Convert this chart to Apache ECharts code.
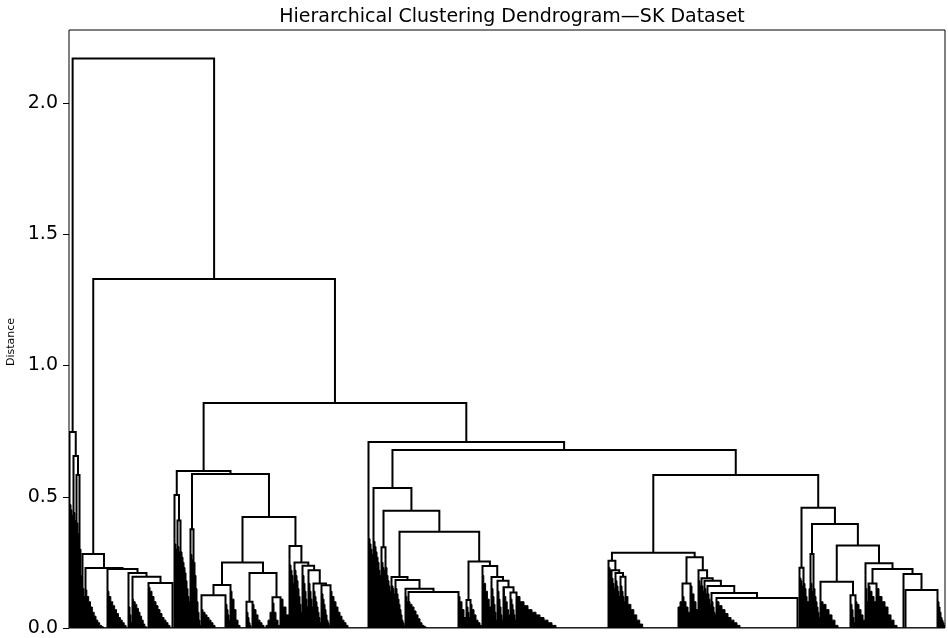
<!DOCTYPE html>
<html>
<head>
<meta charset="utf-8">
<title>Hierarchical Clustering Dendrogram—SK Dataset</title>
<script src="https://cdn.jsdelivr.net/npm/echarts@6.0.0/dist/echarts.min.js"></script>
<style>
    html, body { margin: 0; padding: 0; background: #fff; }
    #chart { width: 948px; height: 638px; }
</style>
</head>
<body>
<div id="chart"></div>
<script>
// merges: name, distance, left child, right child (children are merges or leaf groups)
const merges = [
    ['root', 2.17, 'P1', 'Q'],
    ['P1', 0.747, 'b1', 'P1b'],
    ['P1b', 0.655, 'b2', 'P1c'],
    ['P1c', 0.583, 'b3', 'b4'],
    ['Q', 1.33, 'N28', 'N86'],
    ['N28', 0.282, 'b5', 'N23'],
    ['N23', 0.229, 'b6', 'N225'],
    ['N225', 0.225, 'b7', 'N21'],
    ['N21', 0.21, 'b8', 'N20'],
    ['N20', 0.195, 'b9', 'N17'],
    ['N17', 0.171, 'b10', 'b11'],
    ['N86', 0.857, 'A', 'F'],
    ['A', 0.598, 'AL', 'B'],
    ['AL', 0.507, 'b12', 'AL2'],
    ['AL2', 0.41, 'b13', 'b14'],
    ['B', 0.587, 'BL', 'C'],
    ['BL', 0.376, 'b15', 'b16'],
    ['C', 0.423, 'D', 'E'],
    ['D', 0.25, 'D1', 'D2'],
    ['D1', 0.164, 'D1L', 'b19'],
    ['D1L', 0.125, 'b17', 'b18'],
    ['D2', 0.21, 'D2L', 'D2R'],
    ['D2L', 0.10, 'b20', 'b21'],
    ['D2R', 0.117, 'b22', 'b23'],
    ['E', 0.312, 'b24', 'E1'],
    ['E1', 0.25, 'b25', 'E1R'],
    ['E1R', 0.237, 'b26', 'E1RR'],
    ['E1RR', 0.22, 'b27', 'E2'],
    ['E2', 0.17, 'b28', 'E3'],
    ['E3', 0.163, 'b29', 'b30'],
    ['F', 0.709, 'b31', 'G'],
    ['G', 0.678, 'H', 'I'],
    ['H', 0.533, 'b32', 'J'],
    ['J', 0.447, 'JL', 'K'],
    ['JL', 0.308, 'b33', 'b34'],
    ['K', 0.367, 'KL', 'L'],
    ['KL', 0.194, 'b35', 'KL2'],
    ['KL2', 0.183, 'b36', 'W1'],
    ['W1', 0.15, 'b37', 'W2'],
    ['W2', 0.137, 'b38', 'b39'],
    ['L', 0.253, 'LL', 'M'],
    ['LL', 0.107, 'b40', 'b41'],
    ['M', 0.236, 'b42', 'MR'],
    ['MR', 0.194, 'b43', 'MRR'],
    ['MRR', 0.18, 'b44', 'MR3'],
    ['MR3', 0.155, 'b45', 'MR4'],
    ['MR4', 0.135, 'b46', 'b47'],
    ['I', 0.583, 'IL', 'IR'],
    ['IL', 0.287, 'ILL', 'ILR'],
    ['ILL', 0.256, 'b48', 'ILL2'],
    ['ILL2', 0.22, 'b49', 'ILL3'],
    ['ILL3', 0.21, 'b50', 'ILL4'],
    ['ILL4', 0.195, 'b51', 'b52'],
    ['ILR', 0.27, 'ILRL', 'ILRR'],
    ['ILRL', 0.17, 'b53', 'b54'],
    ['ILRR', 0.22, 'b55', 'R2'],
    ['R2', 0.19, 'b56', 'R3'],
    ['R3', 0.18, 'b57', 'R4'],
    ['R4', 0.16, 'b58', 'R5'],
    ['R5', 0.133, 'b59', 'R6'],
    ['R6', 0.114, 'b60', 'b61'],
    ['IR', 0.458, 'IRL', 'IRR'],
    ['IRL', 0.23, 'b62', 'b63'],
    ['IRR', 0.396, 'IRRL', 'IRRR'],
    ['IRRL', 0.282, 'b64', 'b65'],
    ['IRRR', 0.314, 'X1', 'X2'],
    ['X1', 0.176, 'b66', 'X1R'],
    ['X1R', 0.125, 'b67', 'b68'],
    ['X2', 0.247, 'b69', 'X3'],
    ['X3', 0.225, 'X3L', 'X4'],
    ['X3L', 0.17, 'b70', 'b71'],
    ['X4', 0.206, 'b72', 'X5'],
    ['X5', 0.145, 'b73', 'b74']
]

// leaf groups: name, number of leaves, outline of their small merges from left to right
const leafGroups = [
    ['b1', 4, [0.49, 0.47, 0.45, 0.43]],
    ['b2', 3, [0.47, 0.44, 0.41]],
    ['b3', 3, [0.44, 0.4, 0.36]],
    ['b4', 3, [0.4, 0.3, 0.2]],
    ['b5', 3, [0.2, 0.15, 0.12]],
    ['b6', 22, [0.145, 0.12, 0.1, 0.08, 0.06, 0.045, 0.03, 0.02, 0.01, 0.005, 0, 0]],
    ['b7', 21, [0.14, 0.12, 0.1, 0.085, 0.07, 0.055, 0.04, 0.03, 0.02, 0.01, 0]],
    ['b8', 4, [0.11, 0.08, 0.05, 0.02]],
    ['b9', 16, [0.11, 0.1, 0.09, 0.075, 0.06, 0.045, 0.03, 0.015, 0.005, 0]],
    ['b10', 24, [0.155, 0.14, 0.12, 0.1, 0.085, 0.07, 0.055, 0.04, 0.03, 0.02, 0.01, 0]],
    ['b11', 2, [0, 0]],
    ['b12', 3, [0.34, 0.32, 0.3]],
    ['b13', 3, [0.33, 0.31, 0.29]],
    ['b14', 10, [0.32, 0.29, 0.27, 0.25, 0.23, 0.21, 0.18, 0.15, 0.12, 0.1]],
    ['b15', 3, [0.3, 0.28, 0.26]],
    ['b16', 8, [0.29, 0.25, 0.2, 0.15, 0.1, 0.06, 0.03, 0.01]],
    ['b17', 24, [0.07, 0.06, 0.05, 0.04, 0.03, 0.02, 0.01, 0, 0, 0, 0, 0]],
    ['b18', 5, [0.11, 0.09, 0.07, 0.05, 0.03]],
    ['b19', 16, [0.14, 0.11, 0.07, 0.03, 0.01, 0, 0, 0]],
    ['b20', 6, [0.08, 0.06, 0.04, 0.02, 0.01, 0]],
    ['b21', 14, [0.09, 0.07, 0.05, 0.03, 0.02, 0.01, 0]],
    ['b22', 14, [0.01, 0.03, 0.06, 0.095, 0.06, 0.03, 0.01]],
    ['b23', 9, [0.11, 0.08, 0.05]],
    ['b24', 5, [0.26, 0.24, 0.22, 0.2, 0.17]],
    ['b25', 8, [0.24, 0.22, 0.2, 0.18, 0.15, 0.12, 0.09, 0.06]],
    ['b26', 6, [0.23, 0.2, 0.17, 0.14, 0.11, 0.08]],
    ['b27', 5, [0.2, 0.17, 0.14, 0.11, 0.08]],
    ['b28', 8, [0.16, 0.14, 0.12, 0.1, 0.08, 0.06, 0.04, 0.02]],
    ['b29', 9, [0.15, 0.13, 0.11, 0.09, 0.07, 0.05, 0.03, 0.02, 0.01]],
    ['b30', 38, [0.14, 0.12, 0.1, 0.08, 0.06, 0.045, 0.03, 0.02, 0.01, 0, 0, 0, 0, 0, 0, 0, 0, 0, 0]],
    ['b31', 5, [0.35, 0.34, 0.32, 0.3, 0.28]],
    ['b32', 8, [0.35, 0.33, 0.31, 0.29, 0.27, 0.25, 0.22, 0.2]],
    ['b33', 4, [0.27, 0.25, 0.23, 0.22]],
    ['b34', 6, [0.26, 0.23, 0.2, 0.18, 0.16, 0.14]],
    ['b35', 4, [0.17, 0.16, 0.15, 0.13]],
    ['b36', 10, [0.165, 0.15, 0.13, 0.11, 0.09, 0.07, 0.05, 0.03, 0.02, 0.01]],
    ['b37', 3, [0.14, 0.12, 0.1]],
    ['b38', 50, [0.1, 0.09, 0.08, 0.065, 0.05, 0.035, 0.02, 0.01, 0.005, 0, 0, 0, 0, 0, 0, 0, 0, 0, 0, 0, 0, 0, 0, 0, 0]],
    ['b39', 8, [0.12, 0.1, 0.07, 0.04]],
    ['b40', 4, [0.1, 0.08, 0.06, 0.04]],
    ['b41', 12, [0.09, 0.07, 0.05, 0.03, 0.02, 0.01]],
    ['b42', 9, [0.2, 0.17, 0.14, 0.11, 0.08]],
    ['b43', 6, [0.18, 0.15, 0.12, 0.09, 0.06, 0.03]],
    ['b44', 6, [0.17, 0.14, 0.11, 0.08, 0.05, 0.03]],
    ['b45', 7, [0.15, 0.12, 0.1, 0.07, 0.05]],
    ['b46', 6, [0.13, 0.11, 0.09, 0.07, 0.05, 0.03]],
    ['b47', 92, [0.12, 0.1, 0.085, 0.07, 0.06, 0.05, 0.04, 0.03, 0.02, 0.01, 0, 0, 0, 0, 0, 0, 0, 0, 0, 0, 0, 0, 0]],
    ['b48', 3, [0.25, 0.23, 0.22]],
    ['b49', 4, [0.21, 0.19, 0.17, 0.15]],
    ['b50', 5, [0.2, 0.18, 0.16, 0.14, 0.12]],
    ['b51', 5, [0.18, 0.16, 0.14, 0.12, 0.1]],
    ['b52', 53, [0.12, 0.09, 0.07, 0.05, 0.03, 0.015, 0, 0, 0, 0, 0, 0, 0, 0, 0, 0, 0, 0]],
    ['b53', 12, [0.08, 0.1, 0.12, 0.1, 0.08, 0.06]],
    ['b54', 8, [0.16, 0.13, 0.1, 0.07]],
    ['b55', 3, [0.2, 0.18, 0.16]],
    ['b56', 3, [0.18, 0.16, 0.14]],
    ['b57', 3, [0.17, 0.15, 0.13]],
    ['b58', 4, [0.15, 0.13, 0.11, 0.09]],
    ['b59', 5, [0.12, 0.1, 0.08, 0.06, 0.05]],
    ['b60', 81, [0.1, 0.085, 0.07, 0.055, 0.04, 0.03, 0.02, 0.01, 0, 0, 0, 0, 0, 0, 0, 0, 0, 0, 0, 0, 0, 0, 0, 0, 0, 0, 0]],
    ['b61', 2, [0, 0]],
    ['b62', 4, [0.2, 0.19, 0.18, 0.16]],
    ['b63', 5, [0.19, 0.17, 0.15, 0.12, 0.1]],
    ['b64', 5, [0.1, 0.15, 0.19, 0.17, 0.14]],
    ['b65', 7, [0.18, 0.15, 0.12, 0.1, 0.08, 0.06, 0.04]],
    ['b66', 30, [0.1, 0.09, 0.07, 0.05, 0.03, 0.01, 0, 0, 0, 0]],
    ['b67', 5, [0.11, 0.09, 0.07, 0.04, 0.02]],
    ['b68', 10, [0.1, 0.09, 0.07, 0.05, 0.03]],
    ['b69', 3, [0.2, 0.15, 0.1]],
    ['b70', 8, [0.16, 0.14, 0.12, 0.1]],
    ['b71', 27, [0.15, 0.12, 0.1, 0.08, 0.05, 0.03, 0.01, 0, 0]],
    ['b72', 2, [0, 0]],
    ['b73', 32, [0, 0]],
    ['b74', 8, [0.12, 0.1, 0.08, 0.06, 0.04, 0.03, 0.02, 0.01]]
]

const yTicks = [0, 0.5, 1, 1.5, 2]

// lay out the tree like scipy does: leaves side by side, a merge sits midway over its children
const mergeMap = {}
merges.forEach(m => mergeMap[m[0]] = m)
const groupMap = {}
leafGroups.forEach(g => groupMap[g[0]] = g)

let links = []
let groups = []
let cursor = 0
function place(name) {
    let g = groupMap[name]
    if (g) {
        let n = g[1], prof = g[2]
        let top = Math.max(...prof)
        let slot = n / prof.length
        let x = cursor + prof.indexOf(top) * slot + 0.5
        groups.push({ left: cursor, width: n, prof: prof })
        cursor += n
        return { x: x, h: top }
    }
    let m = mergeMap[name]
    let a = place(m[2])
    let b = place(m[3])
    links.push([a.x, a.h, b.x, b.h, m[1]])
    return { x: (a.x + b.x) / 2, h: m[1] }
}
place('root')
const leafCount = cursor
const yMax = merges[0][1] * 1.05

let chart = echarts.init(document.getElementById('chart'))
let option = {
    animation: false,
    title: {
        text: 'Hierarchical Clustering Dendrogram—SK Dataset',
        left: 507,
        textAlign: 'center',
        top: 3,
        textStyle: {
            fontFamily: 'DejaVu Sans',
            fontSize: 19,
            fontWeight: 'normal',
            color: '#000'
        }
    },
    grid: {
        left: 69,
        right: 3,
        top: 30,
        bottom: 10,
        containLabel: false,
        outerBoundsMode: 'none',
        show: true,
        borderColor: '#000',
        borderWidth: 1
    },
    xAxis: {
        type: 'value',
        min: 0,
        max: leafCount,
        show: false
    },
    yAxis: {
        type: 'value',
        min: 0,
        max: yMax,
        name: 'Distance',
        nameLocation: 'middle',
        nameRotate: 90,
        nameGap: 50,
        nameTextStyle: {
            fontFamily: 'DejaVu Sans',
            fontSize: 11,
            color: '#000',
            padding: [0, 26, 0, 0]
        },
        axisLine: { show: false },
        splitLine: { show: false },
        axisTick: {
            show: true,
            length: 6,
            customValues: yTicks,
            lineStyle: { color: '#000', width: 1 }
        },
        axisLabel: {
            customValues: yTicks,
            margin: 11,
            fontFamily: 'DejaVu Sans',
            fontSize: 19,
            color: '#000',
            formatter: v => v.toFixed(1)
        }
    },
    series: [
        {
            // dense low-level merges under each branch
            type: 'custom',
            silent: true,
            clip: true,
            data: groups.map(g => [g.left + g.width / 2, 0]),
            renderItem: function (params, api) {
                let g = groups[params.dataIndex]
                let slot = g.width / g.prof.length
                let pts = [api.coord([g.left, 0])]
                g.prof.forEach((h, j) => {
                    pts.push(api.coord([g.left + j * slot, h]))
                    pts.push(api.coord([g.left + (j + 1) * slot, h]))
                })
                pts.push(api.coord([g.left + g.width, 0]))
                return {
                    type: 'polygon',
                    shape: { points: pts },
                    style: { fill: '#000', stroke: '#000', lineWidth: 1 }
                }
            }
        },
        {
            // the U-shaped links
            type: 'custom',
            silent: true,
            clip: true,
            data: links,
            renderItem: function (params, api) {
                let pts = [
                    api.coord([api.value(0), api.value(1)]),
                    api.coord([api.value(0), api.value(4)]),
                    api.coord([api.value(2), api.value(4)]),
                    api.coord([api.value(2), api.value(3)])
                ]
                return {
                    type: 'polyline',
                    shape: { points: pts },
                    style: { stroke: '#000', lineWidth: 2, fill: null }
                }
            }
        }
    ]
}
chart.setOption(option)
window.addEventListener('resize', function () {
    chart.resize()
})
</script>
</body>
</html>
